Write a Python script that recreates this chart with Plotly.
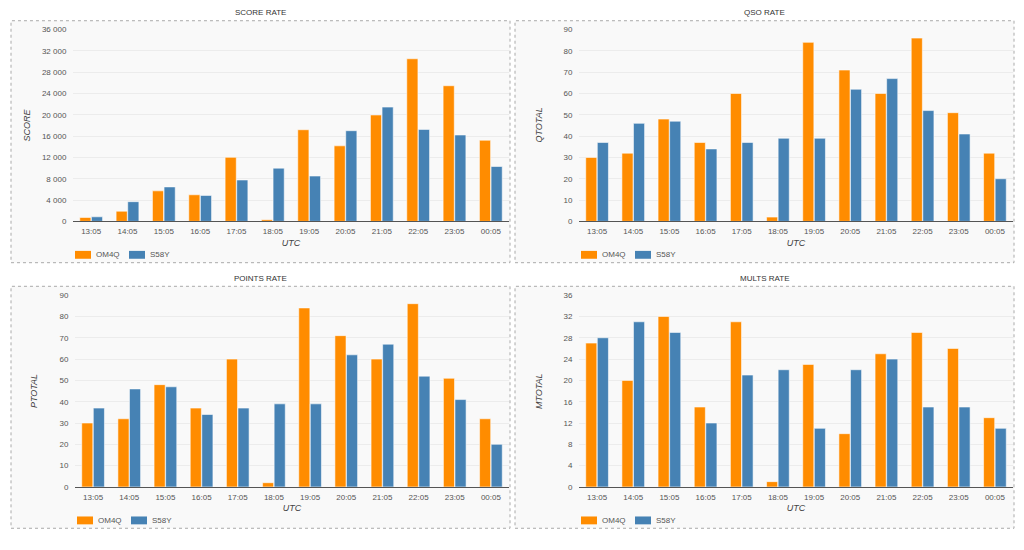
import plotly.graph_objects as go

times = ["13:05", "14:05", "15:05", "16:05", "17:05", "18:05",
         "19:05", "20:05", "21:05", "22:05", "23:05", "00:05"]
series_names = ["OM4Q", "S58Y"]

score_om4q = [740, 1910, 5730, 4990, 12020, 310, 17200, 14180, 19970, 30520, 25460, 15230]
score_s58y = [860, 3700, 6470, 4870, 7770, 9990, 8510, 17020, 21450, 17260, 16210, 10300]

qso_om4q = [30, 32, 48, 37, 60, 2, 84, 71, 60, 86, 51, 32]
qso_s58y = [37, 46, 47, 34, 37, 39, 39, 62, 67, 52, 41, 20]

points_om4q = [30, 32, 48, 37, 60, 2, 84, 71, 60, 86, 51, 32]
points_s58y = [37, 46, 47, 34, 37, 39, 39, 62, 67, 52, 41, 20]

mults_om4q = [27, 20, 32, 15, 31, 1, 23, 10, 25, 29, 26, 13]
mults_s58y = [28, 31, 29, 12, 21, 22, 11, 22, 24, 15, 15, 11]

panel_titles = ["SCORE RATE", "QSO RATE", "POINTS RATE", "MULTS RATE"]
y_titles = ["SCORE", "QTOTAL", "PTOTAL", "MTOTAL"]
y_max = [36000, 90, 90, 36]
y_dtick = [4000, 10, 10, 4]

COLORS = ["#FF8C00", "#4682B4"]
W, H = 1024, 550
FONT = "Liberation Sans, Arial, sans-serif"

def px(x):
    return x / W

def py(y):
    return 1 - y / H

# panel geometry in pixels:
# (box_x0, box_x1, box_y0, box_y1, plot_x0, plot_x1, plot_ytop, plot_ybot, ytitle_x, legend_y)
panels = [
    (11, 510, 17, 263, 73, 509, 26, 221, 27, 255),
    (515, 1014, 17, 263, 579, 1013, 26, 221, 539, 255),
    (11, 510, 287, 533, 75, 509, 296, 491, 34, 525),
    (515, 1014, 287, 533, 579, 1013, 296, 491, 539, 525),
]

data = [
    (score_om4q, score_s58y),
    (qso_om4q, qso_s58y),
    (points_om4q, points_s58y),
    (mults_om4q, mults_s58y),
]

fig = go.Figure()
shapes = []
annotations = []
layout_extra = {}

for i, (p, d) in enumerate(zip(panels, data)):
    bx0, bx1, by0, by1, x0, x1, yt, yb, ytx, ly = p
    n = "" if i == 0 else str(i + 1)
    xa = "x" + n
    ya = "y" + n
    for name, vals, col in zip(series_names, d, COLORS):
        fig.add_trace(go.Bar(
            x=times, y=vals, name=name, xaxis=xa, yaxis=ya,
            marker=dict(color=col, line=dict(color="rgba(255,255,255,0.55)", width=1)),
            showlegend=False,
        ))
    layout_extra["xaxis" + n] = dict(
        domain=[px(x0), px(x1)], anchor=ya, type="category",
        showgrid=False, showline=True, linecolor="#555", linewidth=1,
        ticks="outside", ticklen=2, tickcolor="rgba(0,0,0,0)",
        tickfont=dict(size=8, color="#555", family=FONT),
        title=dict(text="<i>UTC</i>", font=dict(size=9, color="#444", family=FONT), standoff=4),
        fixedrange=True,
    )
    layout_extra["yaxis" + n] = dict(
        domain=[py(yb), py(yt)], anchor=xa, range=[0, y_max[i]], dtick=y_dtick[i],
        showgrid=True, gridcolor="#ececec", gridwidth=1, zeroline=False,
        showline=False, ticks="outside", ticklen=4, tickcolor="rgba(0,0,0,0)",
        separatethousands=True, tickformat=",d",
        tickfont=dict(size=8, color="#555", family=FONT),
        fixedrange=True,
    )
    # y-axis title
    annotations.append(dict(
        text="<i>" + y_titles[i] + "</i>", xref="paper", yref="paper",
        x=px(ytx), y=py((yt + yb) / 2), xanchor="center", yanchor="middle",
        textangle=-90, showarrow=False, font=dict(size=9, color="#444", family=FONT),
    ))
    # panel box
    shapes.append(dict(
        type="rect", xref="paper", yref="paper",
        x0=px(bx0), x1=px(bx1), y0=py(by1), y1=py(by0),
        line=dict(color="#aaa", width=1, dash="dot"),
        fillcolor="#f9f9f9", layer="below",
    ))
    # panel title
    annotations.append(dict(
        text=panel_titles[i], xref="paper", yref="paper",
        x=px((bx0 + bx1) / 2), y=py(by0 - 8), xanchor="center", yanchor="middle",
        showarrow=False, font=dict(size=8, color="#333", family=FONT),
    ))
    # legend (keys + labels)
    lx = x0 + 2
    for name, col in zip(series_names, COLORS):
        shapes.append(dict(
            type="rect", xref="paper", yref="paper",
            x0=px(lx), x1=px(lx + 16), y0=py(ly + 4), y1=py(ly - 4),
            line=dict(width=0), fillcolor=col,
        ))
        annotations.append(dict(
            text=name, xref="paper", yref="paper",
            x=px(lx + 19), y=py(ly), xanchor="left", yanchor="middle",
            showarrow=False, font=dict(size=8, color="#555", family=FONT),
        ))
        lx += 54

fig.update_layout(
    width=W, height=H, margin=dict(l=0, r=0, t=0, b=0),
    paper_bgcolor="white", plot_bgcolor="rgba(0,0,0,0)",
    barmode="group", bargap=0.36, bargroupgap=0.04,
    separators=". ",
    shapes=shapes, annotations=annotations,
    font=dict(family=FONT, size=8, color="#555"),
    **layout_extra,
)

fig.write_html("out.html")
